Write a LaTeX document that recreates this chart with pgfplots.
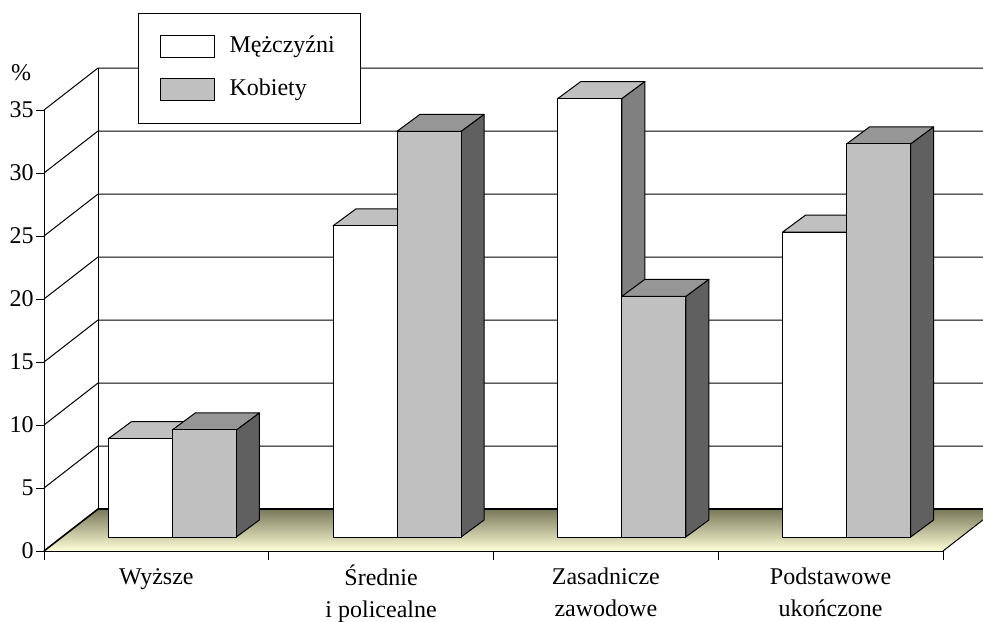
\documentclass[border=0pt]{standalone}
\usepackage{fontspec}
\setmainfont{Liberation Serif}
\usepackage{pgfplots}
\pgfplotsset{compat=1.18}
\usepackage{pgfplotstable}

\definecolor{mtop}{RGB}{192,192,192}
\definecolor{mside}{RGB}{128,128,128}
\definecolor{wfront}{RGB}{192,192,192}
\definecolor{wtop}{RGB}{150,150,150}
\definecolor{wside}{RGB}{96,96,96}
\definecolor{floorback}{RGB}{120,120,90}
\definecolor{floormid}{RGB}{228,228,185}
\definecolor{floorfront}{RGB}{255,255,215}

\pgfplotstableread{
x men women
0 7.8 8.5
1 24.7 32.2
2 34.8 19.1
3 24.2 31.2
}\datatable

% geometry of the pseudo-3D bars (axis units)
\def\fx{0.071}\def\fy{1.11}\def\bw{0.2848}\def\bx{0.1023}\def\by{1.349}
\newcommand\st{\rule{0pt}{10pt}}

\newcommand\poly[2]{\edef\tmp{\noexpand\addplot[forget plot, draw=black, line width=0.5pt, line join=round, fill=#1] coordinates {#2} -- cycle;}\tmp}

\begin{document}
\begin{tikzpicture}
\begin{axis}[name=ax, scale only axis, width=449.5pt, height=220.5pt,
  xmin=-0.5, xmax=3.5, ymin=0, ymax=35, clip=false, axis on top,
  axis x line=bottom, axis y line=left,
  axis line style={-, line width=0.5pt, black},
  xtick={0,1,2,3},
  xticklabels={\st Wyższe,{\st Średnie\\i policealne},{\st Zasadnicze\\zawodowe},{\st Podstawowe\\ukończone}},
  minor xtick={-0.5,0.5,1.5,2.5,3.5},
  ytick={0,5,...,35},
  tick align=outside, major tick length=4pt, minor tick length=4.5pt,
  major x tick style={draw=none},
  minor x tick style={black, line width=0.5pt},
  ytick style={black, line width=0.5pt},
  tick label style={font=\fontsize{12}{16}\selectfont},
  /pgf/number format/assume math mode=true,
  xticklabel style={align=center, anchor=north, yshift=0.8pt},
  yticklabel style={inner xsep=1pt},
  legend cell align=left,
  legend image code/.code={\draw[#1, line width=0.5pt] (0pt,-5.5pt) rectangle (27pt,5.5pt);},
  legend style={at={(0.1046,1.22)}, anchor=north west,
    draw=black, line width=0.5pt, fill=white,
    inner xsep=10.5pt, inner ysep=11pt, row sep=10pt,
    font=\fontsize{12}{14}\selectfont,
    nodes={inner sep=0pt, text height=8.5pt, text depth=2.5pt},
    /tikz/every odd column/.append style={column sep=7.5pt}},
]
% floor
\addplot[forget plot, draw=none, top color=floorback, middle color=floormid, bottom color=floorfront]
  coordinates {(-0.5,0) (3.5,0) (3.7403,3.333) (-0.2597,3.333)} -- cycle;
% walls and gridlines
\addplot[forget plot, black, line width=0.5pt] coordinates {(-0.5,5) (-0.2597,8.333) (3.7403,8.333)};
\addplot[forget plot, black, line width=0.5pt] coordinates {(-0.5,10) (-0.2597,13.333) (3.7403,13.333)};
\addplot[forget plot, black, line width=0.5pt] coordinates {(-0.5,15) (-0.2597,18.333) (3.7403,18.333)};
\addplot[forget plot, black, line width=0.5pt] coordinates {(-0.5,20) (-0.2597,23.333) (3.7403,23.333)};
\addplot[forget plot, black, line width=0.5pt] coordinates {(-0.5,25) (-0.2597,28.333) (3.7403,28.333)};
\addplot[forget plot, black, line width=0.5pt] coordinates {(-0.5,30) (-0.2597,33.333) (3.7403,33.333)};
\addplot[forget plot, black, line width=0.5pt] coordinates {(-0.5,35) (-0.2597,38.333) (3.7403,38.333)};
\addplot[forget plot, black, line width=0.5pt] coordinates {(-0.2597,3.333) (-0.2597,38.333)};
\addplot[forget plot, black, line width=0.8pt] coordinates {(-0.5,0) (-0.2597,3.333) (3.7403,3.333)};
\addplot[forget plot, black, line width=0.5pt] coordinates {(3.5,0) (3.7403,3.333)};
% bars
\pgfplotsinvokeforeach{0,1,2,3}{
  \pgfplotstablegetelem{#1}{men}\of\datatable \pgfmathsetmacro\ym{\fy+\pgfplotsretval}
  \pgfplotstablegetelem{#1}{women}\of\datatable \pgfmathsetmacro\yw{\fy+\pgfplotsretval}
  \pgfmathsetmacro\xa{#1+\fx-\bw}
  \pgfmathsetmacro\xb{#1+\fx}
  \pgfmathsetmacro\xc{#1+\fx+\bw}
  \pgfmathsetmacro\xab{\xa+\bx}
  \pgfmathsetmacro\xbb{\xb+\bx}
  \pgfmathsetmacro\xcb{\xc+\bx}
  \pgfmathsetmacro\ymb{\ym+\by}
  \pgfmathsetmacro\ywb{\yw+\by}
  \pgfmathsetmacro\yfb{\fy+\by}
  \poly{mside}{(\xb,\fy) (\xbb,\yfb) (\xbb,\ymb) (\xb,\ym)}
  \poly{mtop}{(\xa,\ym) (\xb,\ym) (\xbb,\ymb) (\xab,\ymb)}
  \poly{white}{(\xa,\fy) (\xb,\fy) (\xb,\ym) (\xa,\ym)}
  \poly{wside}{(\xc,\fy) (\xcb,\yfb) (\xcb,\ywb) (\xc,\yw)}
  \poly{wtop}{(\xb,\yw) (\xc,\yw) (\xcb,\ywb) (\xbb,\ywb)}
  \poly{wfront}{(\xb,\fy) (\xc,\fy) (\xc,\yw) (\xb,\yw)}
}
\node[font=\fontsize{12}{14}\selectfont] at (axis cs:-0.5,38) [xshift=-11.5pt] {\%};
\addlegendimage{fill=white, draw=black}
\addlegendentry{Mężczyźni\hspace*{2.5pt}}
\addlegendimage{fill=wfront, draw=black}
\addlegendentry{Kobiety}
\end{axis}
\pgfresetboundingbox
\path[shift={(ax.south west)}] (-22pt,-35pt) rectangle (469.5pt,275.5pt);
\end{tikzpicture}
\end{document}
